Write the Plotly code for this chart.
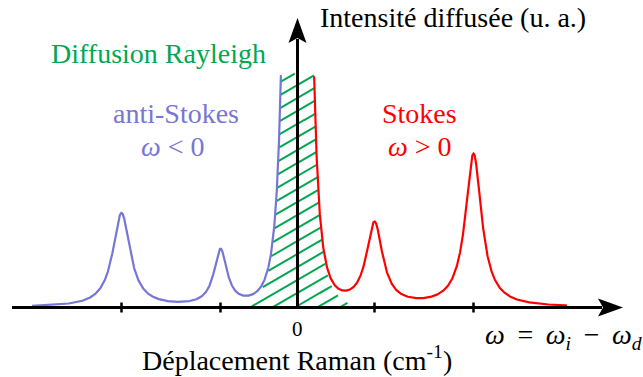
import numpy as np
import plotly.graph_objects as go

# ---- spectrum description (Raman shift in cm^-1, intensity in a.u.) ----
raman_shift = [-800, -350, 350, 800]        # Raman line positions
raman_height = [0.94, 0.56, 0.83, 1.53]     # line intensities
raman_width = [48, 36, 45, 45]              # Lorentzian half widths
rayleigh_height = 100.0                     # elastic line (far off scale)
rayleigh_width = 27.3
rayleigh_exponent = 1.75
intensity_cap = 2.34                        # elastic line drawn truncated here
anti_stokes_span = [-1207, 0]
stokes_span = [0, 1225]
rayleigh_hatch_span = [-216, 227]
tick_positions = [-800, -350, 350, 800]
zero_label = "0"

BLUE = "#7676d6"
RED = "#ff0000"
GREEN = "#00a84f"
FONT = "Liberation Serif"

W, H = 643, 377
X0_PX, Y0_PX = 297.5, 307.5        # pixel position of the origin
PX_PER_CM = 0.22
PX_PER_UNIT = 100.0
x_range = [(0 - X0_PX) / PX_PER_CM, (W - X0_PX) / PX_PER_CM]
y_range = [-(H - Y0_PX) / PX_PER_UNIT, Y0_PX / PX_PER_UNIT]


def rayleigh(u):
    return rayleigh_height / (1 + (u / rayleigh_width) ** 2) ** rayleigh_exponent


def spectrum(u):
    total = rayleigh(u)
    for c, h, w in zip(raman_shift, raman_height, raman_width):
        total = total + h / (1 + ((u - c) / w) ** 2)
    return total


def branch(span):
    u = np.linspace(span[0], span[1], 4000)
    v = spectrum(u)
    keep = v <= intensity_cap
    return u[keep], v[keep]


u_as, v_as = branch(anti_stokes_span)
u_s, v_s = branch(stokes_span)

# hatching under the elastic line: parallel strokes clipped to the region
slope_px = 0.58
k = slope_px * PX_PER_CM / PX_PER_UNIT
step = 0.13
u_h = np.linspace(rayleigh_hatch_span[0], rayleigh_hatch_span[1], 3000)
top = np.minimum(rayleigh(u_h), intensity_cap)
hx, hy = [], []
for n in range(-8, 24):
    v = k * (u_h - rayleigh_hatch_span[0]) + n * step
    inside = (v >= 0) & (v <= top)
    if not inside.any():
        continue
    vv = np.where(inside, v, np.nan)
    hx.extend(u_h.tolist() + [np.nan])
    hy.extend(vv.tolist() + [np.nan])

fig = go.Figure()
fig.add_trace(go.Scatter(x=hx, y=hy, mode="lines", connectgaps=False,
                         line=dict(color=GREEN, width=2), hoverinfo="skip"))
fig.add_trace(go.Scatter(x=u_as, y=v_as, mode="lines",
                         line=dict(color=BLUE, width=2.2), hoverinfo="skip"))
fig.add_trace(go.Scatter(x=u_s, y=v_s, mode="lines",
                         line=dict(color=RED, width=2.2), hoverinfo="skip"))

# axes drawn as arrows
x_left = (12 - X0_PX) / PX_PER_CM
x_tip = (623 - X0_PX) / PX_PER_CM
y_tip = (Y0_PX - 18) / PX_PER_UNIT
head = "M0,0 L-25,9 L-20,0 L-25,-9 Z"
head_up = "M0,0 L-9,-25 L0,-20 L9,-25 Z"
shapes = [
    dict(type="line", x0=x_left, x1=x_tip - 21 / PX_PER_CM, y0=0, y1=0,
         line=dict(color="black", width=3), layer="above"),
    dict(type="line", x0=0, x1=0, y0=0, y1=y_tip - 21 / PX_PER_UNIT,
         line=dict(color="black", width=3), layer="above"),
    dict(type="path", xsizemode="pixel", ysizemode="pixel", xanchor=x_tip,
         yanchor=0, path=head, fillcolor="black", line=dict(width=0),
         layer="above"),
    dict(type="path", xsizemode="pixel", ysizemode="pixel", xanchor=0,
         yanchor=y_tip, path=head_up, fillcolor="black", line=dict(width=0),
         layer="above"),
]
for t in tick_positions:
    shapes.append(dict(type="line", x0=t, x1=t, y0=-0.05, y1=0.05,
                       line=dict(color="black", width=2.5), layer="above"))


def label(text, x_px, y_px, color="black", size=28, xanchor="center"):
    return dict(text=text, x=x_px / W, y=1 - y_px / H, xref="paper",
                yref="paper", showarrow=False, xanchor=xanchor,
                yanchor="middle", font=dict(family=FONT, size=size,
                                            color=color))


gap = " \u2009"
annotations = [
    label("Intensité diffusée (u. a.)", 452.5, 17),
    label("Diffusion Rayleigh", 158.5, 53, GREEN),
    label("anti-Stokes", 176, 113, BLUE),
    label("<i>ω</i> &lt; 0", 173, 146, BLUE),
    label("Stokes", 419, 113, RED),
    label("<i>ω</i> &gt; 0", 419.5, 146, RED),
    label(zero_label, 297, 329, size=21),
    label("Déplacement Raman (cm<sup>-1</sup>)", 297, 358),
    label("<i>ω</i>" + gap + "=" + gap + "<i>ω<sub>i</sub></i>" + gap + "−"
          + gap + "<i>ω<sub>d</sub></i>", 483, 336, xanchor="left"),
]

fig.update_layout(
    width=W, height=H, margin=dict(l=0, r=0, t=0, b=0),
    paper_bgcolor="white", plot_bgcolor="white", showlegend=False,
    font=dict(family=FONT),
    xaxis=dict(range=x_range, visible=False, fixedrange=True),
    yaxis=dict(range=y_range, visible=False, fixedrange=True),
    shapes=shapes, annotations=annotations,
)
fig.write_html("out.html")
